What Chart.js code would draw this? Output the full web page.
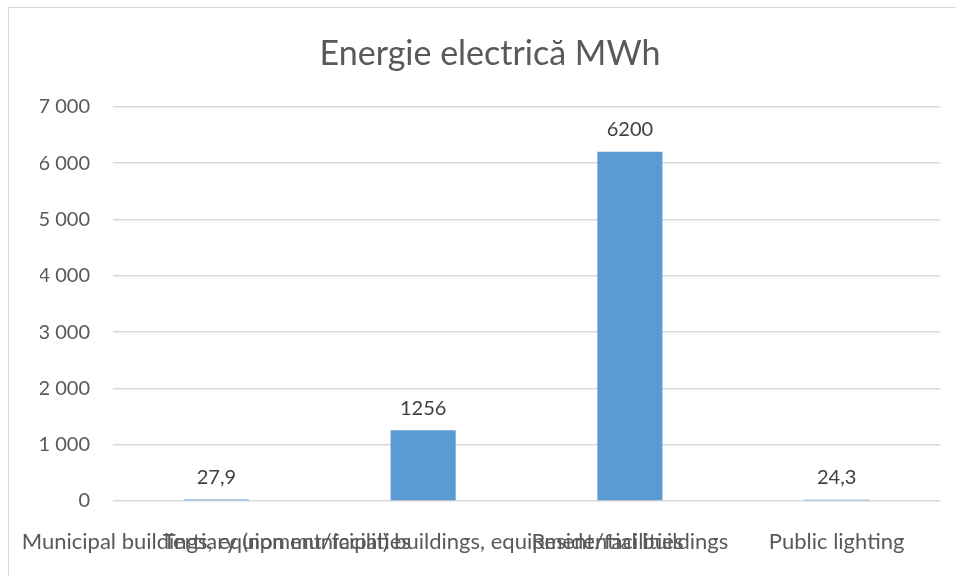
<!DOCTYPE html>
<html>
<head>
<meta charset="utf-8">
<script src="https://cdn.jsdelivr.net/npm/chart.js@4/dist/chart.umd.min.js"></script>
<style>
  html, body { margin: 0; padding: 0; background: #fff; overflow: hidden; }
  #frame { position: absolute; left: 8px; top: 7px; width: 1000px; height: 600px; border: 1px solid #d9d9d9; }
  #wrap { position: absolute; left: 0; top: 0; width: 956px; height: 576px; }
</style>
</head>
<body>
<div id="frame"></div>
<div id="wrap"><canvas id="chart"></canvas></div>
<script>
const categories = [
    'Municipal buildings, equipment/facilities',
    'Tertiary (non municipal) buildings, equipment/facilities',
    'Residential buildings',
    'Public lighting'
];
const energyValues = [27.9, 1256, 6200, 24.3];
const valueLabels = ['27,9', '1256', '6200', '24,3'];
const yTicks = [0, 1000, 2000, 3000, 4000, 5000, 6000, 7000];

const FONT = 'Lato, "Open Sans", sans-serif';

// draws the value above each bar
const barValues = {
    id: 'barValues',
    afterDatasetsDraw(chart) {
        const ctx = chart.ctx;
        const meta = chart.getDatasetMeta(0);
        ctx.save();
        ctx.font = '20px ' + FONT;
        ctx.fillStyle = '#404040';
        ctx.textAlign = 'center';
        ctx.textBaseline = 'bottom';
        meta.data.forEach(function (bar, i) {
            ctx.fillText(valueLabels[i], bar.x, bar.y - 12);
        });
        ctx.restore();
    }
};

new Chart(document.getElementById('chart'), {
    type: 'bar',
    data: {
        labels: categories,
        datasets: [{
            label: 'Energie electrică MWh',
            data: energyValues,
            backgroundColor: '#5b9bd5',
            barPercentage: 0.315,
            categoryPercentage: 1
        }]
    },
    options: {
        responsive: true,
        maintainAspectRatio: false,
        animation: false,
        layout: { padding: { left: 40, right: 16, top: 24, bottom: 0 } },
        plugins: {
            legend: { display: false },
            tooltip: { enabled: false },
            title: {
                display: true,
                text: 'Energie electrică MWh',
                color: '#595959',
                font: { family: FONT, size: 34, weight: 'normal' },
                padding: { top: 10, bottom: 32 }
            }
        },
        scales: {
            x: {
                grid: { display: false },
                border: { display: false },
                afterFit(scale) {
                    // labels are allowed to overlap and overhang, like the original
                    scale.height = 75;
                    scale.paddingLeft = 0;
                    scale.paddingRight = 0;
                },
                ticks: {
                    autoSkip: false,
                    maxRotation: 0,
                    minRotation: 0,
                    color: '#595959',
                    padding: 20,
                    font: { family: FONT, size: 22 }
                }
            },
            y: {
                min: 0,
                max: 7000,
                afterBuildTicks(axis) {
                    axis.ticks = yTicks.map(v => ({ value: v }));
                },
                afterFit(scale) { scale.width = 73; },
                grid: { color: '#d9d9d9', lineWidth: 1.5, drawTicks: false },
                border: { display: false },
                ticks: {
                    color: '#595959',
                    padding: 23,
                    font: { family: FONT, size: 20 },
                    callback: v => v.toLocaleString('en-US').replace(/,/g, ' ')
                }
            }
        }
    },
    plugins: [barValues]
});
</script>
</body>
</html>
